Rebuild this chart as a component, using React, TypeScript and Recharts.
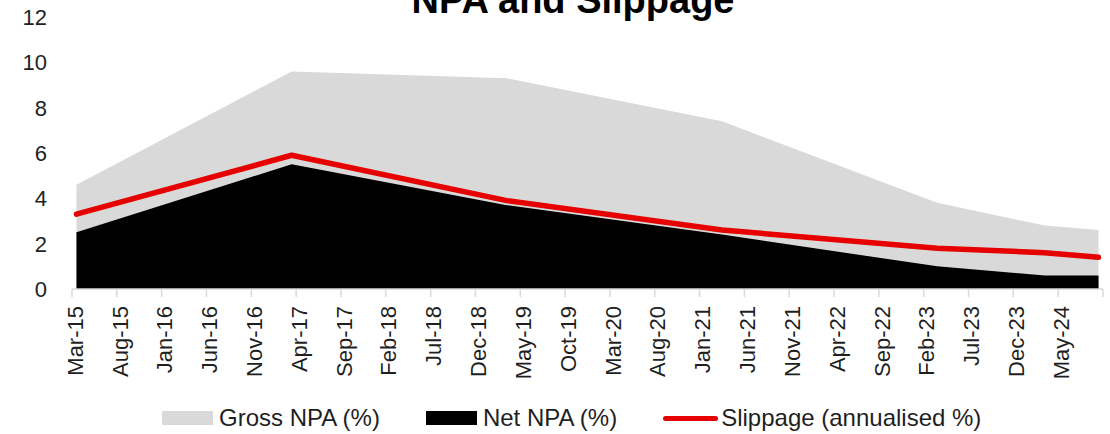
import { ComposedChart, Area, Line, XAxis, YAxis } from 'recharts';

const MONTHS = ['Jan', 'Feb', 'Mar', 'Apr', 'May', 'Jun', 'Jul', 'Aug', 'Sep', 'Oct', 'Nov', 'Dec'];

// period ends
const periods = ['Mar-15', 'Mar-17', 'Mar-19', 'Mar-21', 'Mar-23', 'Mar-24', 'Sep-24'];
const grossNpa = [4.6, 9.6, 9.3, 7.4, 3.8, 2.8, 2.6];
const netNpa = [2.5, 5.5, 3.7, 2.4, 1.0, 0.6, 0.6];
const slippage = [3.3, 5.9, 3.9, 2.6, 1.8, 1.6, 1.4];

const xTickLabels = [
  'Mar-15', 'Aug-15', 'Jan-16', 'Jun-16', 'Nov-16', 'Apr-17', 'Sep-17', 'Feb-18',
  'Jul-18', 'Dec-18', 'May-19', 'Oct-19', 'Mar-20', 'Aug-20', 'Jan-21', 'Jun-21',
  'Nov-21', 'Apr-22', 'Sep-22', 'Feb-23', 'Jul-23', 'Dec-23', 'May-24',
];
const yTicks = [0, 2, 4, 6, 8, 10, 12];

const FONT = '"Liberation Sans", Arial, sans-serif';
const TEXT = '#1f1f1f';

// months since Mar-15
const toIndex = (label: string) => {
  const [mon, yy] = label.split('-');
  return (Number(yy) - 15) * 12 + MONTHS.indexOf(mon) - 2;
};

const xTicks = [...xTickLabels.map(toIndex), toIndex('Oct-24')];
const tickText = new Map(xTickLabels.map(l => [toIndex(l), l]));

// points sit in the middle of their month, like a date axis
const chartData = periods.map((p, i) => ({
  m: toIndex(p) + 0.5,
  gross: grossNpa[i],
  net: netNpa[i],
  slip: slippage[i],
}));

const legendItems = [
  { name: 'Gross NPA (%)', color: '#d9d9d9', kind: 'box' },
  { name: 'Net NPA (%)', color: '#000000', kind: 'box' },
  { name: 'Slippage (annualised %)', color: '#e60000', kind: 'line' },
];

function XTick({ x, y, payload }: any) {
  const label = tickText.get(payload.value);
  if (!label) return null;
  const tx = x + 3;
  return (
    <text
      x={tx}
      y={y}
      transform={`rotate(-90 ${tx} ${y})`}
      textAnchor="end"
      dy="0.35em"
      fontSize={22}
      fontFamily={FONT}
      fill={TEXT}
    >
      {label}
    </text>
  );
}

function YTick({ y, payload }: any) {
  return (
    <text x={47} y={y} textAnchor="end" dy="0.36em" fontSize={22} fontFamily={FONT} fill={TEXT}>
      {payload.value}
    </text>
  );
}

export default function App() {
  return (
    <div style={{ position: 'absolute', left: 0, top: 0, width: 1110, height: 434, background: '#fff', overflow: 'hidden' }}>
      <div
        style={{
          position: 'absolute',
          left: 0,
          width: 1146,
          top: -20.5,
          textAlign: 'center',
          fontFamily: FONT,
          fontWeight: 'bold',
          fontSize: 38,
          lineHeight: '40px',
          color: '#000',
        }}
      >
        NPA and Slippage
      </div>
      <ComposedChart
        width={1110}
        height={434}
        data={chartData}
        margin={{ top: 17, right: 7, bottom: 45, left: 0 }}
      >
        <XAxis
          dataKey="m"
          type="number"
          domain={[0, 115]}
          ticks={xTicks}
          interval={0}
          height={100}
          stroke="#d9d9d9"
          strokeWidth={1.5}
          tickSize={8}
          tickMargin={9}
          tick={<XTick />}
        />
        <YAxis
          domain={[0, 12]}
          ticks={yTicks}
          width={72}
          axisLine={false}
          tickLine={false}
          tick={<YTick />}
        />
        <Area
          type="linear"
          dataKey="gross"
          fill="#d9d9d9"
          fillOpacity={1}
          stroke="none"
          isAnimationActive={false}
        />
        <Area
          type="linear"
          dataKey="net"
          fill="#000000"
          fillOpacity={1}
          stroke="none"
          isAnimationActive={false}
        />
        <Line
          type="linear"
          dataKey="slip"
          stroke="#e60000"
          strokeWidth={5.5}
          strokeLinecap="round"
          strokeLinejoin="round"
          dot={false}
          activeDot={false}
          isAnimationActive={false}
        />
      </ComposedChart>
      <div
        style={{
          position: 'absolute',
          left: 162,
          top: 404,
          display: 'flex',
          alignItems: 'center',
          fontFamily: FONT,
          fontSize: 24,
          lineHeight: '28px',
          color: TEXT,
        }}
      >
        {legendItems.map((item, i) => (
          <div key={item.name} style={{ display: 'flex', alignItems: 'center', marginRight: i < 2 ? 46 : 0 }}>
            {item.kind === 'box' ? (
              <span style={{ width: 51, height: 14, background: item.color, marginRight: 6, display: 'inline-block' }} />
            ) : (
              <span style={{ width: 55, height: 5, borderRadius: 3, background: item.color, marginRight: 3, display: 'inline-block' }} />
            )}
            <span>{item.name}</span>
          </div>
        ))}
      </div>
    </div>
  );
}
